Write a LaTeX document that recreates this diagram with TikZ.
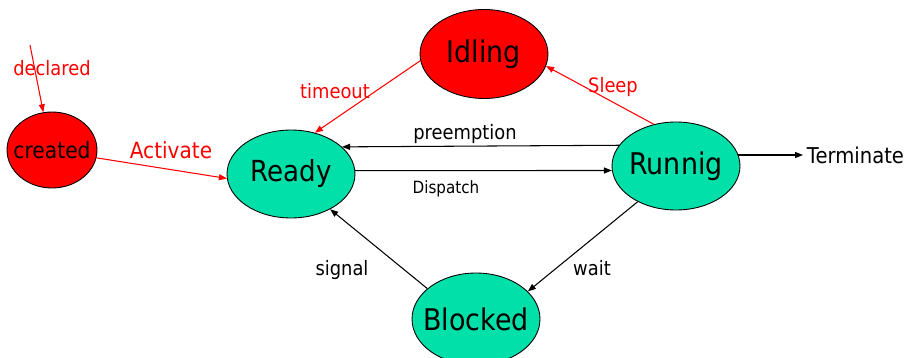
\documentclass[tikz,border=0pt]{standalone}
\usepackage{fontspec}
\setmainfont{DejaVu Sans}[FakeStretch=0.9]
\usetikzlibrary{positioning, arrows.meta, shapes.geometric}
\definecolor{stategreen}{HTML}{00E0A8}
\definecolor{statered}{HTML}{FF0000}
% state names take no width, so the ellipse keeps its own size
\newcommand{\statename}[1]{\makebox[0pt]{#1}}

\begin{document}
\begin{tikzpicture}[
        x=0.02cm, y=-0.02cm,
        state/.style={ellipse, draw=black, line width=0.5pt, fill=stategreen, text=black,
                      inner sep=0pt, minimum width=2.56cm, minimum height=1.76cm,
                      font=\fontsize{17pt}{20pt}\selectfont},
        hotstate/.style={state, fill=statered},
        arrow/.style={-{Triangle[length=0.16cm, width=0.12cm]}, line width=0.6pt, black},
        redarrow/.style={arrow, statered},
        lbl/.style={inner sep=0pt, anchor=base, font=\fontsize{11.3pt}{13pt}\selectfont},
        redlbl/.style={lbl, text=statered}
      ]
        \useasboundingbox (0,0) rectangle (916,358);

        % states
        \node[hotstate, minimum width=1.8cm, minimum height=1.52cm,
              font=\fontsize{12.8pt}{15pt}\selectfont] (created) at (52,150) {\statename{created}};
        \node[hotstate, minimum height=1.78cm] (idling) at (484,54) {\statename{Idling}};
        \node[state, font=\fontsize{16.5pt}{19pt}\selectfont] (ready) at (291,174) {\statename{Ready}};
        \node[state] (runnig) at (676,166) {\statename{Runnig}};
        \node[state, minimum height=1.84cm] (blocked) at (476,319) {\statename{Blocked}};
        \node[lbl, anchor=base west, inner sep=2pt, font=\fontsize{12.4pt}{14pt}\selectfont]
              (terminate) at (803,163) {Terminate};
        \coordinate (start) at (30,45);

        % transitions
        \draw[redarrow] (start) -- (created.103);
        \draw[redarrow] (created.-10) -- (ready.184);
        \draw[redarrow] (idling.186) -- (ready.60);
        \draw[redarrow] (runnig.118) -- (idling.-11);
        \draw[arrow] (runnig.160.7) -- (ready.28.8);
        \draw[arrow] (ready.3.6) -- (runnig.-176.4);
        \draw[arrow] (runnig.223.5) -- (blocked.28);
        \draw[arrow] (blocked.148.5) -- (ready.-42);
        \draw[arrow] (runnig.10.6) -- (runnig.10.6 -| terminate.west);

        % labels
        \node[redlbl] (declaredlbl) at (52,76) {declared};
        \node[redlbl, font=\fontsize{12.7pt}{15pt}\selectfont] (activatelbl) at (171,158) {Activate};
        \node[redlbl] (timeoutlbl) at (335,99) {timeout};
        \node[redlbl] (sleeplbl) at (613,92) {Sleep};
        \node[lbl] (preemptlbl) at (465,139) {preemption};
        \node[lbl, font=\fontsize{9.6pt}{11pt}\selectfont] (dispatchlbl) at (446,194) {Dispatch};
        \node[lbl] (signallbl) at (342,275) {signal};
        \node[lbl] (waitlbl) at (592,275) {wait};
      \end{tikzpicture}
\end{document}
